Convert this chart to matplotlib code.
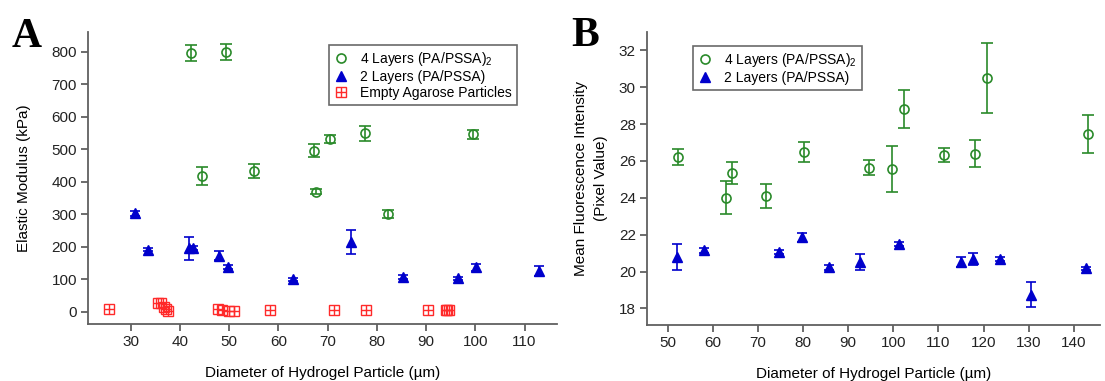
import matplotlib
matplotlib.use("Agg")
import matplotlib.pyplot as plt
from matplotlib.lines import Line2D
from matplotlib.legend_handler import HandlerTuple

plt.rcParams['font.family'] = ['Liberation Sans', 'DejaVu Sans']
plt.rcParams['mathtext.fontset'] = 'custom'
plt.rcParams['mathtext.rm'] = 'Liberation Sans'
plt.rcParams['mathtext.it'] = 'Liberation Sans'

# ---- Panel A data ----
A_circle_x = [42.2, 49.4, 44.5, 55.1, 67.3, 67.7, 70.5, 77.6, 82.3, 99.6]
A_circle_y = [795, 798, 418, 433, 495, 369, 530, 549, 301, 545]
A_circle_err = [25, 24, 28, 22, 20, 8, 12, 23, 12, 14]

A_tri_x = [30.9, 33.5, 41.8, 42.7, 48.0, 49.7, 62.9, 74.7, 85.4, 96.4, 100.2, 113.0]
A_tri_y = [303, 190, 195, 197, 172, 138, 100, 214, 106, 103, 137, 125]
A_tri_err = [8, 5, 36, 6, 14, 6, 5, 37, 6, 5, 11, 15]

A_sq_x = [25.6, 35.6, 36.1, 36.8, 37.2, 37.5, 47.7, 48.5, 49.9, 50.9, 58.2, 71.3, 77.8, 90.4, 94.0, 94.3, 94.6]
A_sq_y = [7, 28, 28, 14, 7, 3, 7, 5, 3, 3, 5, 5, 5, 5, 5, 5, 5]

A_xticks = [30, 40, 50, 60, 70, 80, 90, 100, 110]
A_yticks = [0, 100, 200, 300, 400, 500, 600, 700, 800]

# ---- Panel B data ----
B_circle_x = [52.2, 63.0, 64.3, 71.8, 80.2, 94.5, 99.7, 102.4, 111.3, 118.1, 120.7, 143.2]
B_circle_y = [26.2, 24.0, 25.33, 24.09, 26.5, 25.64, 25.56, 28.82, 26.33, 26.4, 30.49, 27.46]
B_circle_err = [0.44, 0.9, 0.59, 0.66, 0.55, 0.39, 1.26, 1.04, 0.36, 0.74, 1.89, 1.03]

B_tri_x = [52.1, 58.0, 74.6, 79.7, 85.8, 92.5, 101.3, 115.1, 117.6, 123.7, 130.4, 142.7]
B_tri_y = [20.78, 21.15, 21.06, 21.86, 20.23, 20.53, 21.5, 20.52, 20.67, 20.7, 18.75, 20.17]
B_tri_err = [0.70, 0.12, 0.1, 0.25, 0.15, 0.42, 0.1, 0.29, 0.32, 0.1, 0.70, 0.1]

B_xticks = [50, 60, 70, 80, 90, 100, 110, 120, 130, 140]
B_yticks = [18, 20, 22, 24, 26, 28, 30, 32]

lab_circle = "4 Layers (PA/PSSA)$_2$"
lab_tri = "2 Layers (PA/PSSA)"
lab_sq = "Empty Agarose Particles"

GREEN = '#2a8a2a'
BLUE = '#0000cc'
RED = '#ff2a2a'
SPINE = '#606060'

fig = plt.figure(figsize=(11.05, 3.81), dpi=100)
axA = fig.add_axes([88/1105, 57/381, 469/1105, 292/381])
axB = fig.add_axes([647/1105, 56/381, 453/1105, 293/381])


def style(ax):
    for s in ['top', 'right']:
        ax.spines[s].set_visible(False)
    for s in ['left', 'bottom']:
        ax.spines[s].set_color(SPINE)
        ax.spines[s].set_linewidth(1.3)
    ax.tick_params(axis='both', direction='out', color=SPINE, width=1.3,
                   length=5, labelsize=11, labelcolor='#222222', pad=3)


def circles(ax, x, y, e):
    ax.errorbar(x, y, yerr=e, fmt='none', ecolor=GREEN, elinewidth=1.2,
                capsize=4, capthick=1.2, zorder=2)
    ax.plot(x, y, 'o', ms=6.5, mfc='none', mec=GREEN, mew=1.2, ls='none', zorder=3)


def tris(ax, x, y, e):
    ax.errorbar(x, y, yerr=e, fmt='none', ecolor=BLUE, elinewidth=1.2,
                capsize=3.5, capthick=1.2, zorder=2)
    ax.plot(x, y, '^', ms=7.5, mfc=BLUE, mec=BLUE, ls='none', zorder=3)


# Panel A
style(axA)
circles(axA, A_circle_x, A_circle_y, A_circle_err)
tris(axA, A_tri_x, A_tri_y, A_tri_err)
axA.plot(A_sq_x, A_sq_y, 's', ms=6.5, mfc='none', mec=RED, mew=1.0, ls='none', zorder=3)
axA.plot(A_sq_x, A_sq_y, '+', ms=6.5, mec=RED, mew=1.0, ls='none', zorder=3)
axA.set_xlim(21.3, 116.6)
axA.set_ylim(-38, 860)
axA.set_xticks(A_xticks)
axA.set_yticks(A_yticks)
axA.set_xlabel("Diameter of Hydrogel Particle (µm)", fontsize=11, labelpad=12)
axA.set_ylabel("Elastic Modulus (kPa)", fontsize=11, labelpad=15)

hc = Line2D([], [], marker='o', ms=6.5, mfc='none', mec=GREEN, mew=1.2, ls='none')
ht = Line2D([], [], marker='^', ms=7, mfc=BLUE, mec=BLUE, ls='none')
hs1 = Line2D([], [], marker='s', ms=6.5, mfc='none', mec=RED, mew=1.0, ls='none')
hs2 = Line2D([], [], marker='+', ms=6.5, mec=RED, mew=1.0, ls='none')
legA = axA.legend([hc, ht, (hs1, hs2)], [lab_circle, lab_tri, lab_sq],
                  handler_map={tuple: HandlerTuple(ndivide=1)},
                  loc='upper left', bbox_to_anchor=((329 - 88) / 469, (324 - 45) / 292),
                  fontsize=10, frameon=True, fancybox=False, edgecolor='#444444',
                  handlelength=1.0, handletextpad=0.9, borderpad=0.35, labelspacing=0.15,
                  borderaxespad=0)
legA.get_frame().set_linewidth(1.2)

# Panel B
style(axB)
circles(axB, B_circle_x, B_circle_y, B_circle_err)
tris(axB, B_tri_x, B_tri_y, B_tri_err)
axB.set_xlim(45.4, 145.8)
axB.set_ylim(17.1, 33.0)
axB.set_xticks(B_xticks)
axB.set_yticks(B_yticks)
axB.set_xlabel("Diameter of Hydrogel Particle (µm)", fontsize=11, labelpad=12)
axB.set_ylabel("Mean Fluorescence Intensity\n(Pixel Value)", fontsize=11, labelpad=8,
               linespacing=1.5)
legB = axB.legend([hc, ht], [lab_circle, lab_tri],
                  loc='upper left', bbox_to_anchor=((693 - 647) / 453, (325 - 46) / 293),
                  fontsize=10, frameon=True, fancybox=False, edgecolor='#444444',
                  handlelength=1.0, handletextpad=0.9, borderpad=0.35, labelspacing=0.15,
                  borderaxespad=0)
legB.get_frame().set_linewidth(1.2)

fig.text(12/1105, 1 - 47/381, "A", fontsize=30, fontweight='bold',
         family='Liberation Serif', ha='left', va='baseline')
fig.text(571/1105, 1 - 46/381, "B", fontsize=30, fontweight='bold',
         family='Liberation Serif', ha='left', va='baseline')

fig.savefig("out.png", dpi=100)
